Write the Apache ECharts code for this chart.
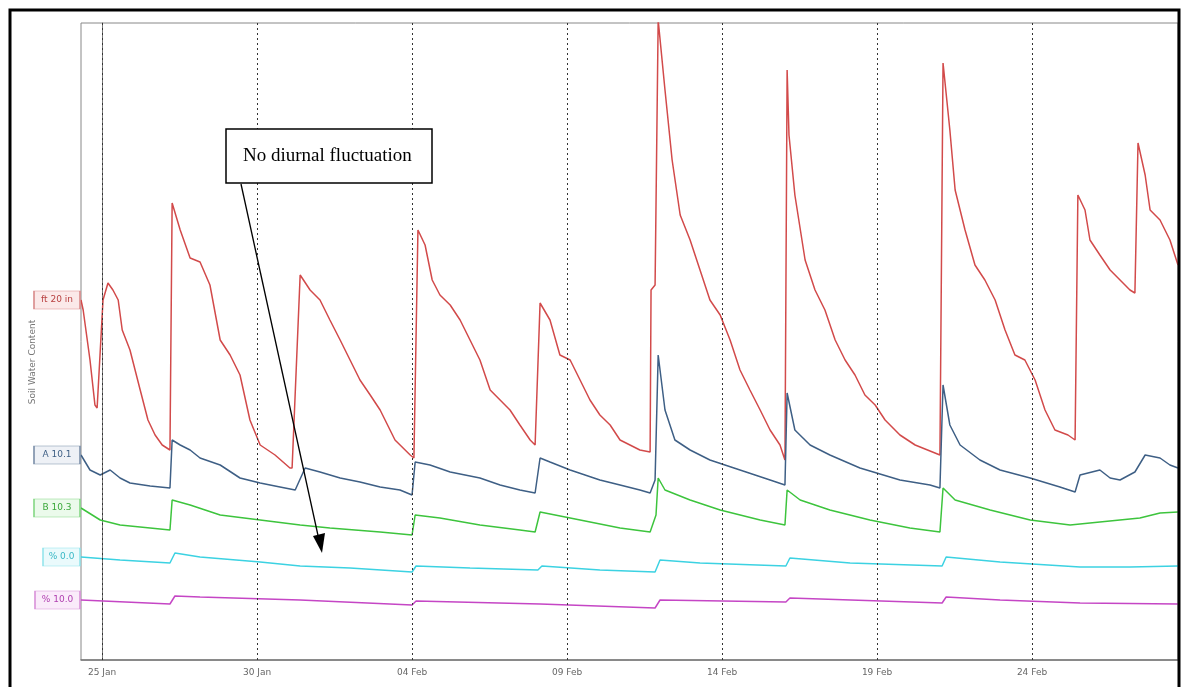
<!DOCTYPE html>
<html><head><meta charset="utf-8">
<script src="https://cdn.jsdelivr.net/npm/echarts@6/dist/echarts.min.js"></script>
<style>html,body{margin:0;padding:0;background:#fff}#c{width:1183px;height:687px}</style>
</head><body><div id="c"></div>
<script>
// x = days since 25 Jan 00:00, y = soil water content (arbitrary units)
const tickDays = [0, 5, 10, 15, 20, 25, 30];
const tickLabels = ["25 Jan", "30 Jan", "04 Feb", "09 Feb", "14 Feb", "19 Feb", "24 Feb"];
const seriesNames = ["ft 20 in", "A 10.1", "B 10.3", "% 0.0", "% 10.0"];

const redDays = [-0.68,-0.61,-0.39,-0.23,-0.16,0.03,0.19,0.35,0.52,0.65,0.90,1.23,1.48,1.71,1.94,2.19,2.26,2.52,2.84,3.16,3.48,3.81,4.13,4.45,4.77,5.10,5.58,6.06,6.13,6.39,6.71,7.03,7.35,7.68,8.00,8.32,8.65,8.97,9.45,9.94,10.06,10.19,10.42,10.65,10.90,11.23,11.55,11.87,12.19,12.52,12.84,13.16,13.48,13.81,13.97,14.13,14.45,14.77,15.10,15.42,15.74,16.06,16.39,16.71,17.35,17.68,17.71,17.84,17.90,17.94,18.16,18.39,18.65,18.97,19.29,19.61,19.94,20.26,20.58,20.90,21.23,21.55,21.87,22.03,22.10,22.16,22.35,22.68,23.00,23.32,23.65,23.97,24.29,24.61,24.94,25.26,25.74,26.23,27.03,27.13,27.35,27.52,27.84,28.16,28.48,28.81,29.13,29.45,29.77,30.10,30.42,30.74,31.16,31.39,31.48,31.71,31.87,32.19,32.52,32.84,33.16,33.32,33.42,33.65,33.81,34.13,34.45,34.71];
const redVals = [36.0,35.0,30.0,25.5,25.2,36.0,37.7,37.0,36.0,33.0,31.0,27.0,24.0,22.5,21.5,21.0,45.7,43.0,40.2,39.8,37.5,32.0,30.5,28.5,24.0,21.5,20.5,19.2,19.2,38.5,37.0,36.0,34.0,32.0,30.0,28.0,26.5,25.0,22.0,20.5,20.2,43.0,41.5,38.0,36.5,35.5,34.0,32.0,30.0,27.0,26.0,25.0,23.5,22.0,21.5,35.7,34.0,30.5,30.0,28.0,26.0,24.5,23.5,22.0,21.0,20.8,37.0,37.5,37.7,64.0,57.0,50.0,44.5,42.0,39.0,36.0,34.5,32.0,29.0,27.0,25.0,23.0,21.5,20.0,59.0,52.5,46.5,40.0,37.0,35.0,32.0,30.0,28.5,26.5,25.5,24.0,22.5,21.5,20.5,59.7,53.0,47.0,43.0,39.5,38.0,36.0,33.0,30.5,30.0,28.0,25.0,23.0,22.5,22.0,46.5,45.0,42.0,40.5,39.0,38.0,37.0,36.7,51.7,48.5,45.0,44.0,42.0,39.5];

const blueDays = [-0.68,-0.39,-0.06,0.26,0.58,0.90,1.55,2.19,2.26,2.52,2.84,3.16,3.81,4.45,5.10,5.74,6.23,6.55,7.03,7.68,8.32,8.97,9.61,10.00,10.10,10.58,11.23,12.19,12.84,13.48,13.97,14.13,14.45,15.10,16.06,16.71,17.35,17.68,17.84,17.94,18.16,18.48,18.97,19.61,20.58,21.55,22.03,22.10,22.35,22.84,23.48,24.45,25.74,26.71,27.03,27.13,27.35,27.68,28.32,28.97,29.94,30.90,31.39,31.55,32.19,32.52,32.84,33.32,33.65,34.13,34.45,34.71];
const blueVals = [20.5,19.0,18.5,19.0,18.2,17.7,17.4,17.2,22.0,21.5,21.0,20.2,19.5,18.2,17.7,17.3,17.0,19.2,18.8,18.2,17.8,17.3,17.0,16.5,19.8,19.5,18.8,18.2,17.5,17.0,16.7,20.2,19.8,19.0,18.0,17.5,17.0,16.7,18.0,30.5,25.0,22.0,21.0,20.0,19.0,18.0,17.5,26.7,23.0,21.5,20.5,19.2,18.0,17.5,17.2,27.5,23.5,21.5,20.0,19.0,18.2,17.3,16.8,18.5,19.0,18.2,18.0,18.8,20.5,20.2,19.5,19.2];

const greenDays = [-0.68,-0.06,0.58,1.55,2.19,2.26,2.84,3.81,5.10,6.39,7.35,8.97,10.00,10.10,10.90,12.19,13.48,13.97,14.13,15.10,16.71,17.68,17.87,17.94,18.16,18.97,19.94,21.23,22.03,22.10,22.52,23.48,24.77,26.06,27.03,27.13,27.52,28.65,29.94,31.23,32.19,33.48,34.13,34.71];
const greenVals = [15.2,14.0,13.5,13.2,13.0,16.0,15.5,14.5,14.0,13.5,13.2,12.8,12.5,14.5,14.2,13.5,13.0,12.8,14.8,14.2,13.2,12.8,14.5,18.2,17.0,16.0,15.0,14.0,13.5,17.0,16.0,15.0,14.0,13.2,12.8,17.2,16.0,15.0,14.0,13.5,13.8,14.2,14.7,14.8];

const cyanDays = [-0.68,0.58,2.19,2.35,3.16,5.10,6.39,8.00,10.00,10.13,11.87,14.06,14.19,16.06,17.84,18.00,19.29,22.06,22.19,24.13,27.10,27.23,28.97,31.55,33.16,34.71];
const cyanVals = [10.3,10.0,9.7,10.7,10.3,9.8,9.4,9.2,8.8,9.4,9.2,9.0,9.4,9.0,8.8,10.0,9.7,9.4,10.2,9.7,9.4,10.3,9.8,9.3,9.3,9.4];

const magentaDays = [-0.68,2.19,2.35,3.16,6.39,10.00,10.13,14.13,17.84,18.00,22.06,22.19,27.10,27.23,28.97,31.55,34.71];
const magentaVals = [6.0,5.6,6.4,6.3,6.0,5.5,5.9,5.6,5.2,6.0,5.8,6.2,5.7,6.3,6.0,5.7,5.6];

const X_MIN = -0.68, X_MAX = 34.71, Y_MIN = 0, Y_MAX = 63.7;

const styles = [
  {line: '#d24a4a', box: '#d98a8a', fill: '#fbe9e9', text: '#b84040', w: 46},
  {line: '#3e5f85', box: '#7a8ea8', fill: '#eef1f6', text: '#3e5f85', w: 46},
  {line: '#3dc43d', box: '#84d884', fill: '#ebfaeb', text: '#3aa83a', w: 46},
  {line: '#3cd2e2', box: '#8ae2ea', fill: '#eafafc', text: '#3ab8c6', w: 37},
  {line: '#c546c5', box: '#d890d8', fill: '#faebfa', text: '#b040b0', w: 45}
];
const allDays = [redDays, blueDays, greenDays, cyanDays, magentaDays];
const allVals = [redVals, blueVals, greenVals, cyanVals, magentaVals];

const series = allDays.map((days, i) => {
  const st = styles[i];
  const s = {
    name: seriesNames[i], type: 'line', showSymbol: false, symbol: 'none',
    lineStyle: {color: st.line, width: 1.5}, itemStyle: {color: st.line},
    data: days.map((d, k) => [d, allVals[i][k]]),
    silent: true, animation: false,
    markPoint: {
      symbol: 'rect', symbolSize: [st.w, 18], symbolOffset: [-st.w / 2 - 1, 0],
      itemStyle: {color: st.fill, borderColor: st.box, borderWidth: 1},
      label: {show: true, formatter: seriesNames[i], color: st.text, fontSize: 9, fontFamily: 'DejaVu Sans'},
      data: [{coord: [days[0], allVals[i][0]]}]
    }
  };
  if (i === 0) {
    s.markLine = {
      silent: true, symbol: ['none', 'none'],
      lineStyle: {color: '#333', type: [2, 3], width: 1},
      label: {show: true, position: 'start', distance: 8, color: '#666', fontSize: 9, fontFamily: 'DejaVu Sans',
        formatter: p => tickLabels[tickDays.indexOf(p.value)]},
      data: tickDays.map(d => ({xAxis: d}))
    };
  }
  return s;
});

const chart = echarts.init(document.getElementById('c'));
chart.setOption({
  animation: false,
  backgroundColor: '#fff',
  grid: {left: 81, right: 5, top: 23, bottom: 27, show: true, borderColor: '#888', borderWidth: 1},
  xAxis: {type: 'value', min: X_MIN, max: X_MAX, axisLabel: {show: false}, axisTick: {show: false},
    splitLine: {show: false}, axisLine: {lineStyle: {color: '#777', width: 1.5}}},
  yAxis: {type: 'value', min: Y_MIN, max: Y_MAX, axisLabel: {show: false}, axisTick: {show: false},
    splitLine: {show: false}, axisLine: {show: true, lineStyle: {color: '#777'}}},
  series: series,
  graphic: [
    {type: 'rect', shape: {x: 10, y: 10, width: 1169, height: 700}, style: {fill: 'none', stroke: '#000', lineWidth: 3}, z: 100},
    {type: 'text', x: 33, y: 362, rotation: Math.PI / 2,
      style: {text: 'Soil Water Content', font: '9px "DejaVu Sans"', fill: '#777', align: 'center', verticalAlign: 'middle'}, z: 100},
    {type: 'rect', shape: {x: 226, y: 129, width: 206, height: 54}, style: {fill: '#fff', stroke: '#000', lineWidth: 1.5}, z: 100},
    {type: 'text', x: 243, y: 156, style: {text: 'No diurnal fluctuation', font: '19px "Liberation Serif", serif', fill: '#000', textVerticalAlign: 'middle'}, z: 101},
    {type: 'line', shape: {x1: 241, y1: 184, x2: 319, y2: 540}, style: {stroke: '#000', lineWidth: 1.3}, z: 100},
    {type: 'polygon', shape: {points: [[322, 553], [313, 536], [325, 533]]}, style: {fill: '#000'}, z: 100}
  ]
});
</script>
</body></html>
